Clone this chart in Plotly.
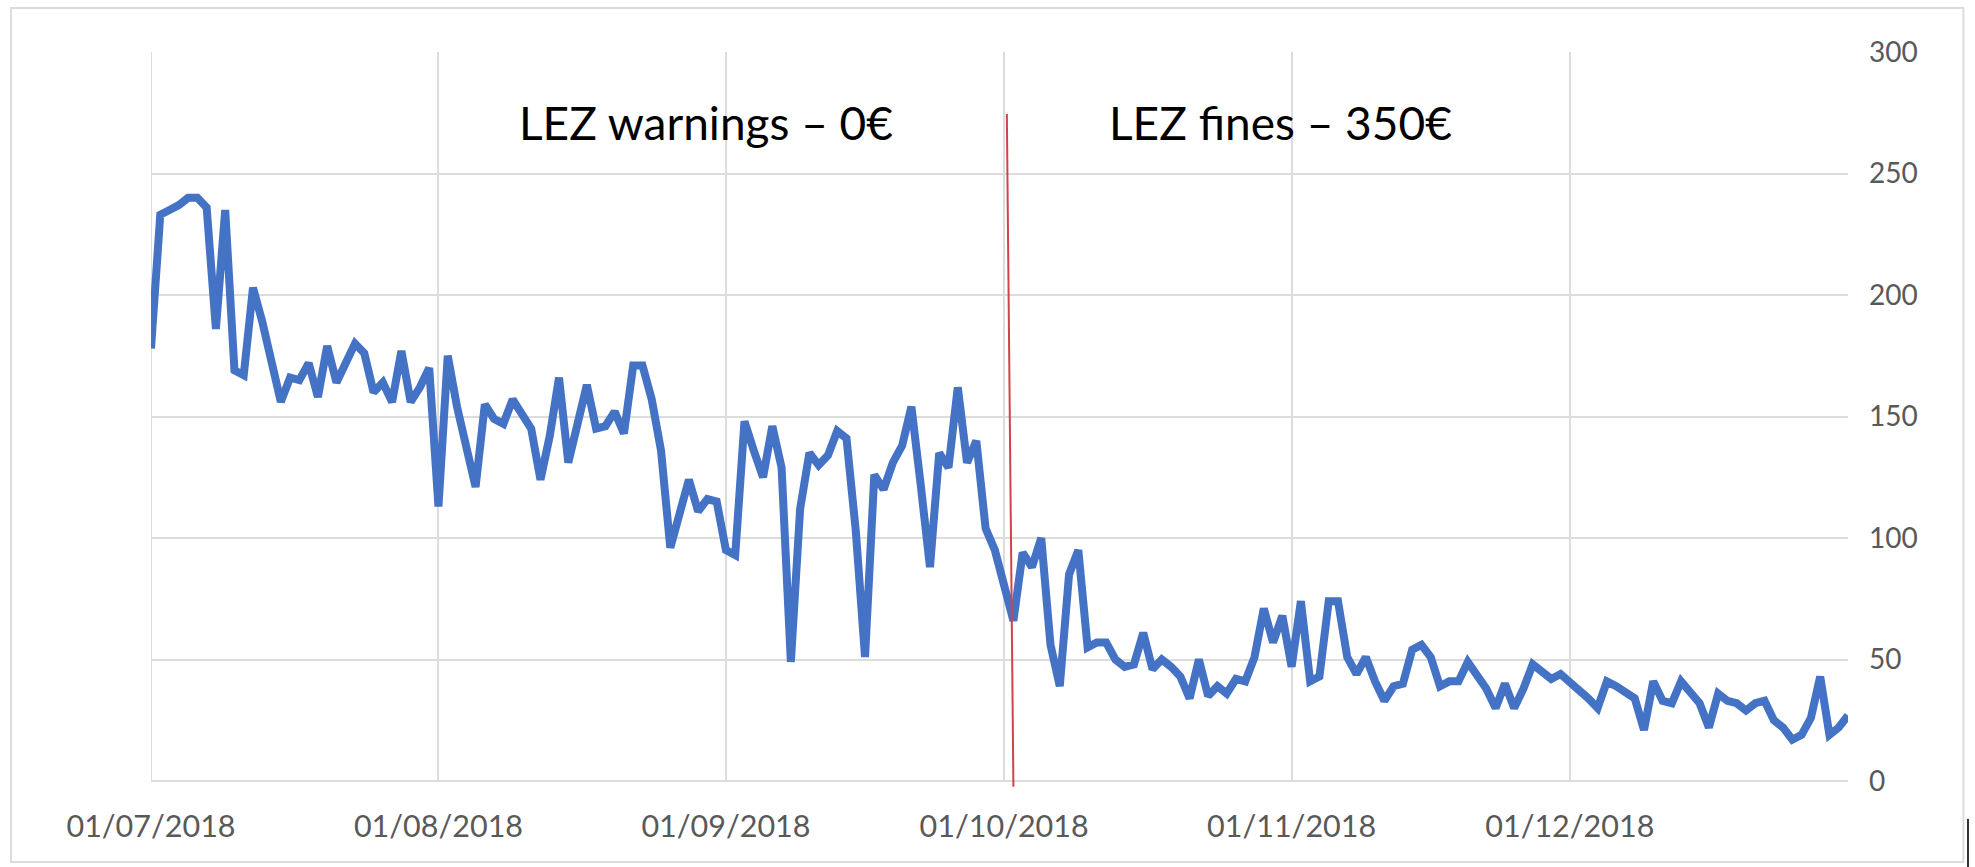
import pandas as pd
import plotly.graph_objects as go

# ── Data ──────────────────────────────────────────────────────────────────────
START_DATE = "2018-07-01"
END_DATE = "2018-12-31"

daily_counts = [
    178, 233, 235, 237, 240, 240, 236, 186, 235, 169,
    167, 203, 189, 172, 156, 166, 165, 172, 158, 179,
    164, 172, 180, 176, 160, 164, 156, 177, 156, 162,
    170, 113, 175, 154, 138, 121, 155, 149, 147, 157,
    151, 145, 124, 142, 166, 131, 147, 163, 145, 146,
    152, 143, 171, 171, 157, 136, 96, 110, 124, 111,
    116, 115, 95, 93, 148, 136, 125, 146, 129, 49,
    112, 135, 130, 134, 144, 141, 103, 51, 126, 120,
    131, 138, 154, 122, 88, 135, 129, 162, 131, 140,
    104, 95, 80, 66, 94, 88, 100, 56, 39, 85,
    95, 55, 57, 57, 50, 47, 48, 61, 46, 50,
    47, 43, 34, 50, 35, 39, 36, 42, 41, 51,
    71, 57, 68, 47, 74, 41, 43, 74, 74, 51,
    44, 51, 41, 33, 39, 40, 54, 56, 51, 39,
    41, 41, 49, 43, 38, 30, 40, 30, 38, 48,
    45, 42, 44, 41, 37, 34, 30, 41, 39, 36,
    34, 21, 41, 33, 32, 41, 36, 32, 22, 36,
    33, 32, 29, 32, 33, 25, 22, 17, 19, 26,
    43, 19, 22, 27,
]
dates = pd.date_range(START_DATE, END_DATE, freq="D")

month_ticks = ["2018-07-01", "2018-08-01", "2018-09-01",
               "2018-10-01", "2018-11-01", "2018-12-01"]
month_labels = ["01/07/2018", "01/08/2018", "01/09/2018",
                "01/10/2018", "01/11/2018", "01/12/2018"]
y_ticks = [0, 50, 100, 150, 200, 250, 300]

left_label = "LEZ warnings – 0€"
right_label = "LEZ fines – 350€"

# ── Style ─────────────────────────────────────────────────────────────────────
LINE_BLUE = "#4472C4"
GRID = "#dcdcdc"
TICK_GREY = "#595959"
FONT = "Lato, 'Open Sans', sans-serif"

fig = go.Figure()

fig.add_trace(go.Scatter(
    x=dates, y=daily_counts,
    mode="lines",
    line=dict(color=LINE_BLUE, width=8),
    showlegend=False,
    hoverinfo="x+y",
))

# 01/07 gridline at the left edge of the plot
fig.add_shape(type="line", xref="x", yref="paper",
              x0=START_DATE, x1=START_DATE, y0=0, y1=1,
              line=dict(color=GRID, width=2), layer="below")

# red divider at the start of LEZ fines (slightly slanted, as in the source)
fig.add_shape(type="line", xref="x", yref="paper",
              x0="2018-10-02 00:00", y0=-0.008,
              x1="2018-10-01 07:00", y1=0.915,
              line=dict(color="#d0434a", width=2))

# outer chart frame
fig.add_shape(type="rect", xref="paper", yref="paper",
              x0=-0.0825, x1=1.068, y0=-0.111, y1=1.0604,
              line=dict(color=GRID, width=2), layer="below")
fig.add_shape(type="line", xref="paper", yref="paper",
              x0=1.0707, x1=1.0707, y0=-0.118, y1=-0.052,
              line=dict(color="#333333", width=2))

fig.add_annotation(x="2018-08-29 20:00", y=271, xref="x", yref="y",
                   text=left_label, showarrow=False,
                   font=dict(family=FONT, size=46, color="black"))
fig.add_annotation(x="2018-10-30 18:00", y=271, xref="x", yref="y",
                   text=right_label, showarrow=False,
                   font=dict(family=FONT, size=46, color="black"))

fig.update_layout(
    width=1975, height=867,
    margin=dict(l=151, r=127, t=52, b=86),
    paper_bgcolor="white", plot_bgcolor="white",
    font=dict(family=FONT, color=TICK_GREY),
    xaxis=dict(
        type="date",
        range=[START_DATE, END_DATE],
        tickmode="array", tickvals=month_ticks, ticktext=month_labels,
        showgrid=True, gridcolor=GRID, gridwidth=2,
        zeroline=False, showline=False, ticks="",
        tickfont=dict(family=FONT, size=30.5, color=TICK_GREY),
        ticklabelstandoff=24,
    ),
    yaxis=dict(
        range=[0, 300], side="right",
        tickmode="array", tickvals=y_ticks,
        showgrid=True, gridcolor=GRID, gridwidth=2,
        zeroline=True, zerolinecolor=GRID, zerolinewidth=2,
        showline=False, ticks="",
        tickfont=dict(family=FONT, size=28, color=TICK_GREY),
        ticklabelstandoff=20,
    ),
)

# drop the default page margin so the figure sits flush in the window
fig.write_html("out.html",
               config={"displayModeBar": False},
               post_script="document.body.style.margin='0';")
